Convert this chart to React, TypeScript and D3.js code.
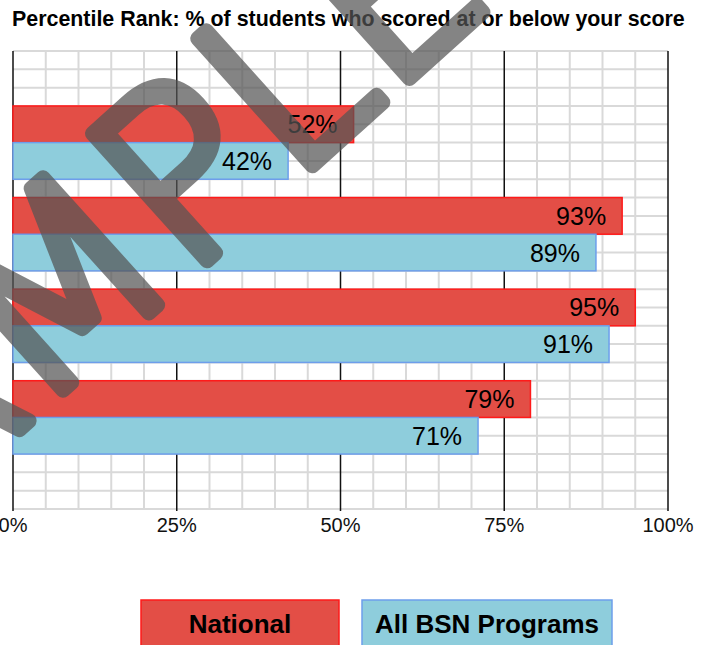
import React, { useEffect, useRef } from 'react';
import * as d3 from 'd3';

const WIDTH = 703;
const HEIGHT = 645;

const MARGIN = { top: 51, right: 35, bottom: 136, left: 13 };

const TITLE = 'Percentile Rank: % of students who scored at or below your score';
const groups = ['Score 1', 'Score 2', 'Score 3', 'Score 4'];
const seriesNames = ['National', 'All BSN Programs'];
const national = [52, 93, 95, 79];
const bsn = [42, 89, 91, 71];
const xTicks = [0, 25, 50, 75, 100];

const FILL = ['#e34e46', '#8ecddc'];
const STROKE = ['#ff1a1a', '#6d9eeb'];

export default function App() {
  const ref = useRef<SVGSVGElement>(null);

  useEffect(() => {
    const svg = d3.select(ref.current);
    svg.selectAll('*').remove();

    const x = d3.scaleLinear()
      .domain([0, 100])
      .range([MARGIN.left, WIDTH - MARGIN.right]);

    const y = d3.scaleBand()
      .domain(groups)
      .range([MARGIN.top, HEIGHT - MARGIN.bottom])
      .paddingInner(0.2)
      .paddingOuter(0.6);

    const sub = d3.scaleBand()
      .domain(seriesNames)
      .range([0, y.bandwidth()]);

    // each group covers 5 grid rows, plus 5 rows of padding
    const rows = groups.length * 5 + 5;
    const yRow = d3.scaleLinear()
      .domain([0, rows])
      .range([MARGIN.top, HEIGHT - MARGIN.bottom]);

    svg.append('text')
      .attr('x', 12)
      .attr('y', 26)
      .attr('font-family', 'Liberation Sans, Arial, sans-serif')
      .attr('font-weight', 'bold')
      .attr('font-size', 21.4)
      .attr('fill', '#000')
      .text(TITLE);

    const grid = svg.append('g');

    grid.selectAll('.vminor')
      .data(d3.range(0, 101, 5).filter(v => v % 25 !== 0))
      .enter()
      .append('line')
      .attr('x1', d => x(d))
      .attr('x2', d => x(d))
      .attr('y1', MARGIN.top)
      .attr('y2', HEIGHT - MARGIN.bottom)
      .attr('stroke', '#d9d9d9')
      .attr('stroke-width', 2);

    grid.selectAll('.hrow')
      .data(d3.range(0, rows + 1))
      .enter()
      .append('line')
      .attr('x1', x(0))
      .attr('x2', x(100))
      .attr('y1', d => yRow(d))
      .attr('y2', d => yRow(d))
      .attr('stroke', '#d9d9d9')
      .attr('stroke-width', 2);

    grid.selectAll('.vmajor')
      .data(xTicks)
      .enter()
      .append('line')
      .attr('x1', d => x(d))
      .attr('x2', d => x(d))
      .attr('y1', MARGIN.top)
      .attr('y2', HEIGHT - MARGIN.bottom + 2)
      .attr('stroke', '#111')
      .attr('stroke-width', 1.5);

    const series = [national, bsn];

    series.forEach((values, s) => {
      const g = svg.append('g');
      const name = seriesNames[s];

      g.selectAll('rect')
        .data(values)
        .enter()
        .append('rect')
        .attr('x', x(0))
        .attr('y', (d, i) => y(groups[i])! + sub(name)!)
        .attr('width', d => x(d) - x(0))
        .attr('height', sub.bandwidth())
        .attr('fill', FILL[s])
        .attr('stroke', STROKE[s])
        .attr('stroke-width', 1.5);

      g.selectAll('text')
        .data(values)
        .enter()
        .append('text')
        .attr('x', d => x(d) - 16)
        .attr('y', (d, i) => y(groups[i])! + sub(name)! + sub.bandwidth() / 2)
        .attr('dy', '0.36em')
        .attr('text-anchor', 'end')
        .attr('font-family', 'Liberation Sans, Arial, sans-serif')
        .attr('font-size', 25)
        .attr('fill', '#000')
        .text(d => `${d}%`);
    });

    svg.append('g')
      .selectAll('text')
      .data(xTicks)
      .enter()
      .append('text')
      .attr('x', d => x(d))
      .attr('y', 532)
      .attr('text-anchor', 'middle')
      .attr('font-family', 'Liberation Sans, Arial, sans-serif')
      .attr('font-size', 20)
      .attr('fill', '#111')
      .text(d => `${d}%`);

    // legend
    const legend = [
      { x: 141, w: 198 },
      { x: 362, w: 250 },
    ];

    legend.forEach((l, i) => {
      svg.append('rect')
        .attr('x', l.x)
        .attr('y', 600)
        .attr('width', l.w)
        .attr('height', 60)
        .attr('fill', FILL[i])
        .attr('stroke', STROKE[i])
        .attr('stroke-width', 1.5);

      svg.append('text')
        .attr('x', l.x + l.w / 2)
        .attr('y', 633)
        .attr('text-anchor', 'middle')
        .attr('font-family', 'Liberation Sans, Arial, sans-serif')
        .attr('font-weight', 'bold')
        .attr('font-size', 26)
        .attr('fill', '#000')
        .text(seriesNames[i]);
    });

    // watermark: thin glyphs fattened by a round stroke
    svg.append('g')
      .attr('opacity', 0.72)
      .append('text')
      .attr('transform', 'translate(150, 312) rotate(-42)')
      .attr('text-anchor', 'middle')
      .attr('font-family', 'DejaVu Sans, sans-serif')
      .attr('font-weight', 200)
      .attr('font-size', 235)
      .attr('fill', '#555')
      .attr('stroke', '#555')
      .attr('stroke-width', 15)
      .attr('stroke-linejoin', 'round')
      .attr('stroke-linecap', 'round')
      .text('SAMPLE');
  }, []);

  return (
    <div style={{ position: 'absolute', left: 0, top: 0 }}>
      <svg ref={ref} width={WIDTH} height={HEIGHT} viewBox={`0 0 ${WIDTH} ${HEIGHT}`} style={{ display: 'block' }}></svg>
    </div>
  );
}
